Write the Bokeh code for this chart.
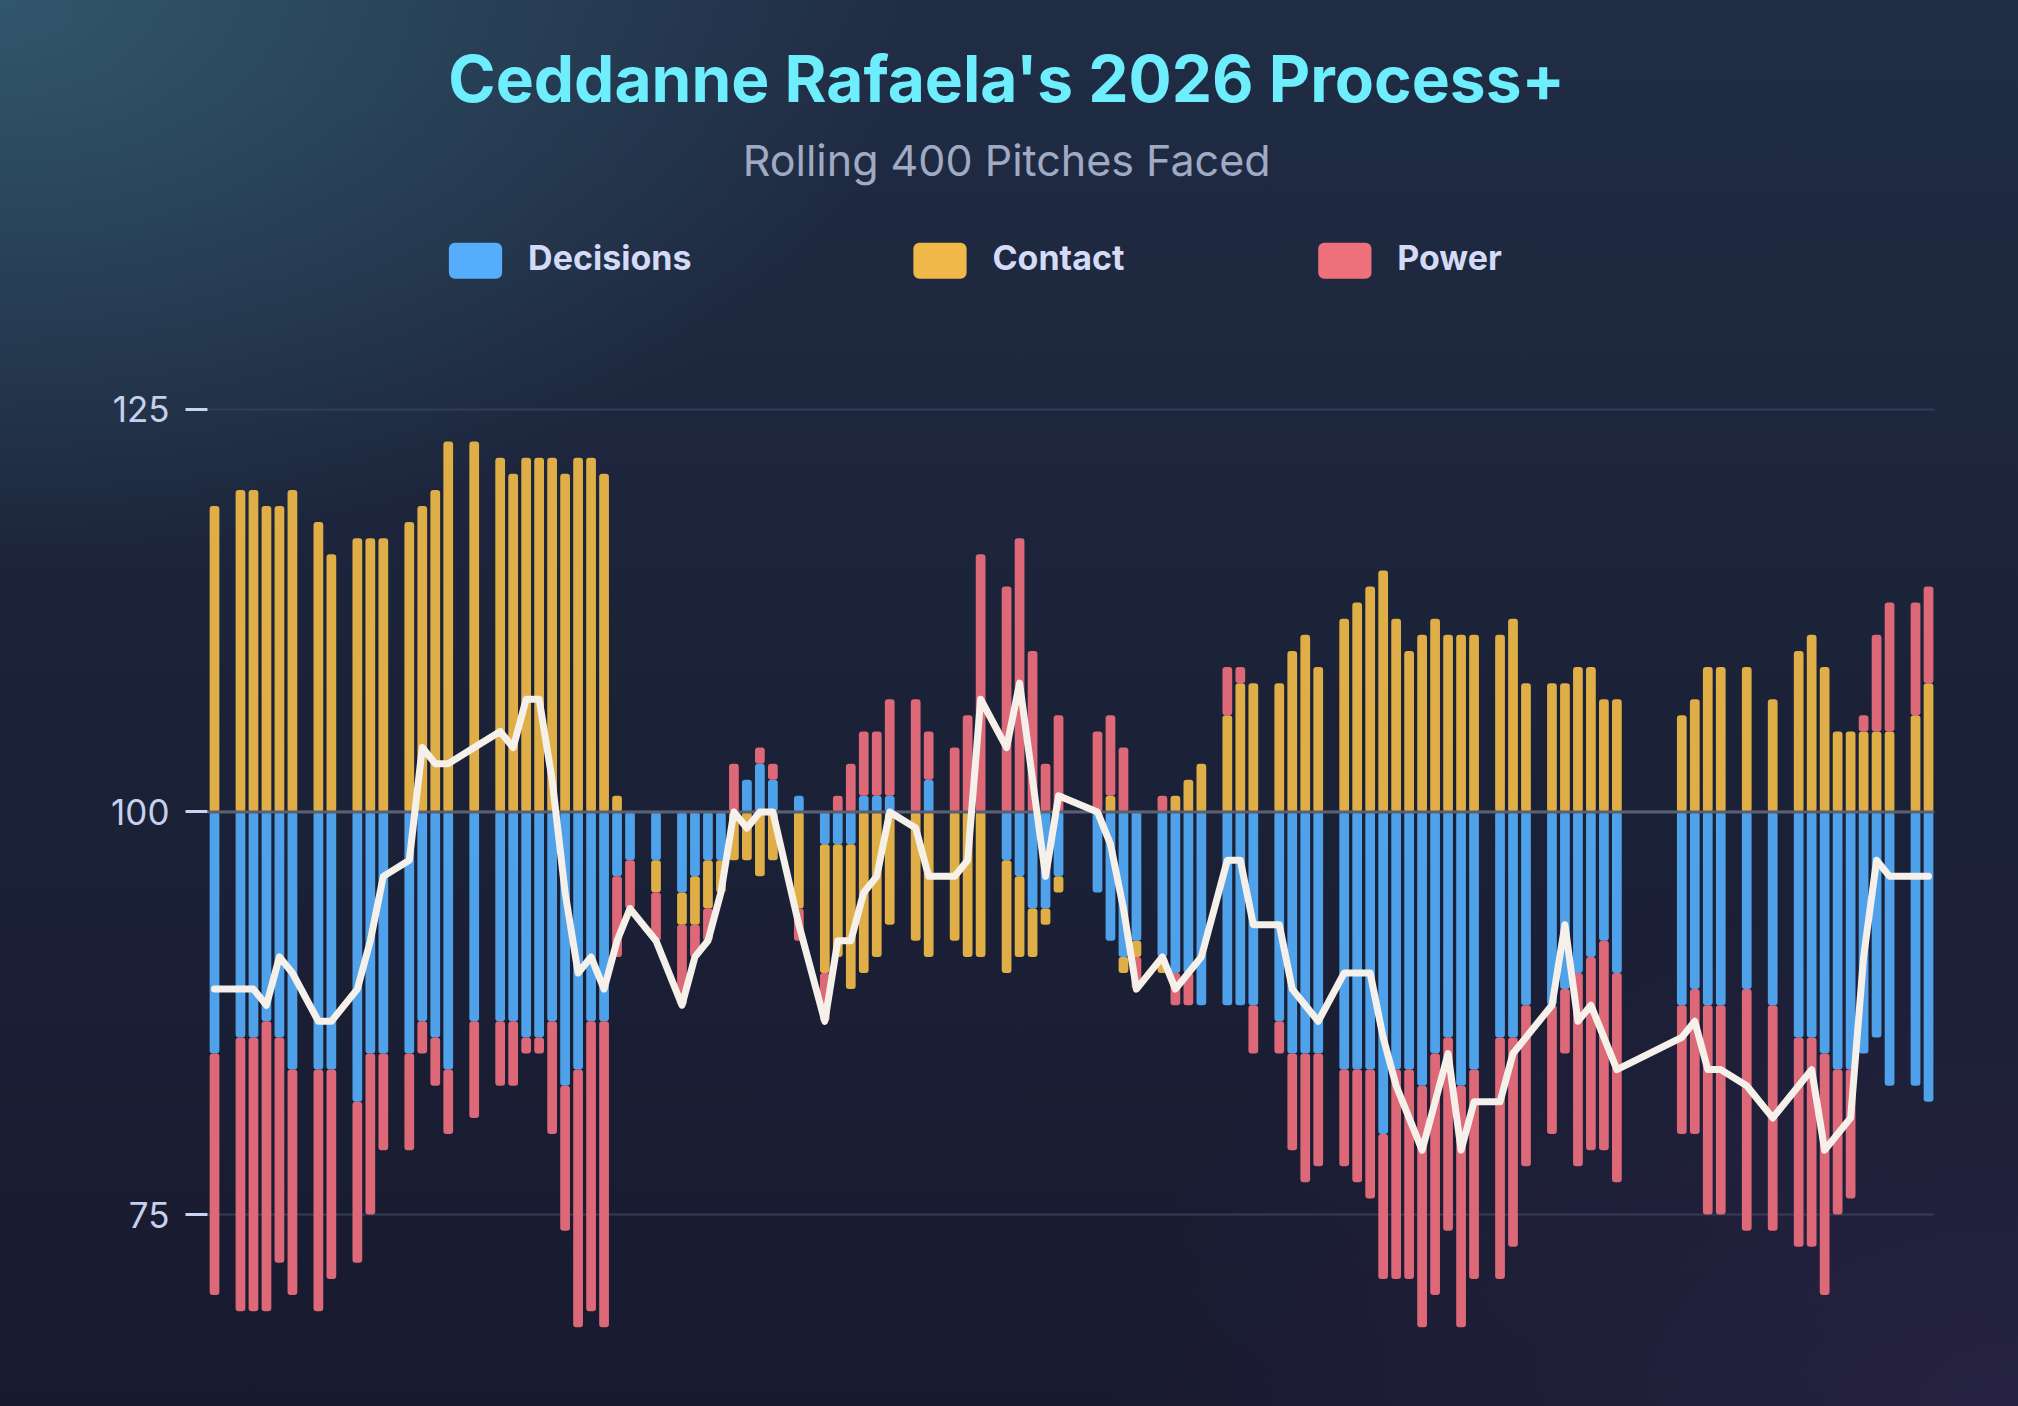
import re
from bokeh.plotting import figure
from bokeh.models import ColumnDataSource, FixedTicker, Range1d
from bokeh.core.properties import value
from bokeh.embed import file_html
from bokeh.resources import INLINE

# ---------------- data ----------------
game = [0, 2, 3, 4, 5, 6, 8, 9, 11, 12, 13, 15, 16, 17, 18, 20,
        22, 23, 24, 25, 26, 27, 28, 29, 30, 31, 32, 34, 36, 37, 38, 39, 40, 41, 42, 43,
        45, 47, 48, 49, 50, 51, 52, 54, 55, 57, 58, 59, 61, 62, 63, 64, 65,
        68, 69, 70, 71, 73, 74, 75, 76, 78, 79, 80, 82, 83, 84, 85, 87, 88,
        89, 90, 91, 92, 93, 94, 95, 96, 97, 99, 100, 101, 103, 104, 105, 106, 107, 108,
        113, 114, 115, 116, 118, 120, 122, 123, 124, 125, 126, 127, 128, 129, 131, 132]

decisions = [-15, -14, -14, -13, -14, -16, -16, -16, -18, -15, -15, -15, -13, -14, -16, -13,
             -13, -13, -14, -14, -13, -17, -16, -13, -13, -4, -3, -3, -5, -4, -3, -3, 0, 2, 3, 2,
             1, -2, -2, -2, 1, 1, 1, 0, 2, 0, 0, 0, -3, -4, -6, -6, -4,
             -5, -8, -9, -8, -9, -10, -10, -12, -12, -12, -12, -13, -15, -15, -15, -16, -16,
             -16, -20, -16, -16, -17, -15, -14, -17, -16, -14, -14, -12, -12, -11, -10, -9, -8, -10,
             -12, -11, -12, -12, -11, -12, -14, -14, -15, -16, -16, -15, -14, -17, -17, -18]

contact = [19, 20, 20, 19, 19, 20, 18, 16, 17, 17, 17, 18, 19, 20, 23, 23,
           22, 21, 22, 22, 22, 21, 22, 22, 21, 1, 0, -2, -2, -3, -3, -2, -3, -3, -4, -3,
           -6, -8, -7, -9, -10, -9, -7, -8, -9, -8, -9, -9, -7, -5, -3, -1, -1,
           0, 1, -1, -1, -1, 1, 2, 3, 6, 8, 8, 8, 10, 11, 9, 12, 13,
           14, 15, 12, 10, 11, 12, 11, 11, 11, 11, 12, 8, 8, 8, 9, 9, 7, 7,
           6, 7, 9, 9, 9, 7, 10, 11, 9, 5, 5, 5, 5, 5, 6, 8]

power = [-15, -17, -17, -18, -14, -14, -15, -13, -10, -10, -6, -6, -2, -3, -4, -6,
         -4, -4, -1, -1, -7, -9, -16, -18, -19, -5, -3, -3, -5, -2, -2, 0, 3, 0, 1, 1,
         -2, -3, 1, 3, 4, 4, 6, 7, 3, 4, 6, 16, 14, 17, 10, 3, 6,
         5, 5, 4, -2, 1, -2, -2, 0, 3, 1, -3, -2, -6, -8, -7, -6, -7,
         -8, -9, -13, -13, -15, -15, -12, -15, -13, -15, -13, -10, -8, -4, -12, -12, -13, -13,
         -8, -9, -13, -13, -15, -14, -13, -13, -15, -9, -8, 1, 6, 8, 7, 6]

process_plus = [89, 89, 89, 88, 91, 90, 87, 87, 89, 92, 96, 97, 104, 103, 103, 104,
                105, 104, 107, 107, 102, 95, 90, 91, 89, 92, 94, 92, 88, 91, 92, 95, 100, 99, 100, 100,
                93, 87, 92, 92, 95, 96, 100, 99, 96, 96, 97, 107, 104, 108, 102, 96, 101,
                100, 98, 94, 89, 91, 89, 90, 91, 97, 97, 93, 93, 89, 88, 87, 90, 90,
                90, 86, 83, 81, 79, 82, 85, 79, 82, 82, 85, 86, 88, 93, 87, 88, 86, 84,
                86, 87, 84, 84, 83, 81, 83, 84, 79, 80, 81, 91, 97, 96, 96, 96]

series_names = ["Decisions", "Contact", "Power"]
y_ticks = [75, 100, 125]
baseline = 100

title_text = "Ceddanne Rafaela's 2026 Process+"
subtitle_text = "Rolling 400 Pitches Faced"

# ---------------- style ----------------
bar_colors = ["#4fa2ea", "#dfae46", "#dd6877"]
legend_colors = ["#55adfb", "#f0b848", "#ee707b"]
FONT = "Inter"

X0, X1 = -0.54, 132.46
Y0, Y1 = 63.08, 150.39

p = figure(width=2018, height=1406,
           x_range=Range1d(X0, X1), y_range=Range1d(Y0, Y1),
           x_axis_location=None, y_axis_location="left",
           toolbar_location=None, tools="", output_backend="svg",
           min_border_left=207, min_border_right=84,
           min_border_top=0, min_border_bottom=0)
p.background_fill_alpha = 0
p.border_fill_alpha = 0
p.outline_line_color = None

# y axis
yax = p.yaxis[0]
yax.ticker = FixedTicker(ticks=y_ticks)
yax.axis_line_color = None
yax.major_tick_line_color = "#c9d3f3"
yax.major_tick_line_width = 3
yax.major_tick_out = 22
yax.major_tick_in = 0
yax.minor_tick_line_color = None
yax.major_label_standoff = 16
yax.major_label_text_font = FONT
yax.major_label_text_font_size = "35px"
yax.major_label_text_color = "#c6d0ee"

p.ygrid.ticker = FixedTicker(ticks=y_ticks)
p.ygrid.grid_line_color = "#343c56"
p.ygrid.grid_line_width = 2
p.xgrid.visible = False

# diverging stacks: positives stack upward from 100, negatives downward
pos_acc = [float(baseline)] * len(game)
neg_acc = [float(baseline)] * len(game)
for name, vals, col in zip(series_names, [decisions, contact, power], bar_colors):
    xs, tops, bots = [], [], []
    for i, v in enumerate(vals):
        if v > 0:
            xs.append(game[i]); bots.append(pos_acc[i]); tops.append(pos_acc[i] + v)
            pos_acc[i] += v
        elif v < 0:
            xs.append(game[i]); tops.append(neg_acc[i]); bots.append(neg_acc[i] + v)
            neg_acc[i] += v
    src = ColumnDataSource(dict(x=xs, top=tops, bottom=bots))
    p.vbar(x="x", top="top", bottom="bottom", width=0.75, source=src,
           fill_color=col, line_color=None, border_radius=3)

# baseline at 100 (drawn over the bars, under the line)
p.segment(x0=[X0], x1=[X1], y0=[baseline], y1=[baseline],
          line_color="#5a6173", line_width=3)

# Process+ line
p.line(game, process_plus, line_color="#f5f0e9", line_width=7,
       line_join="round", line_cap="round")

# title & subtitle
p.text(x=[61.0], y=[145.53], text=[title_text], text_font=value(FONT),
       text_font_size="64px", text_font_style="bold", text_color="#6eeefc",
       text_align="center", text_baseline="alphabetic")
p.text(x=[61.0], y=[140.5], text=[subtitle_text], text_font=value(FONT),
       text_font_size="43px", text_color="#a0aac4",
       text_align="center", text_baseline="alphabetic")

# legend (manual, rounded swatches)
sw_left = [18.05, 53.82, 85.0]
sw_w = 4.1
lab_x = [24.15, 59.91, 91.08]
p.quad(left=sw_left, right=[l + sw_w for l in sw_left],
       top=[135.35] * 3, bottom=[133.11] * 3,
       fill_color=legend_colors, line_color=None, border_radius=6)
p.text(x=lab_x, y=[134.41] * 3, text=series_names, text_font=value(FONT),
       text_font_size="34px", text_font_style="bold", text_color="#d5dbf7",
       text_align="left", text_baseline="alphabetic")

html = file_html(p, INLINE)
bg = ("background: radial-gradient(ellipse 45% 40% at 0% 0%, rgba(52,94,114,0.85) 0%, rgba(52,94,114,0) 100%),"
      " radial-gradient(ellipse 45% 40% at 100% 100%, rgba(50,40,80,0.55) 0%, rgba(50,40,80,0) 100%),"
      " linear-gradient(180deg, #202d45 0%, #1b2238 50%, #181a2f 100%); min-height:100%;")
html = re.sub(r"<html([^>]*)>", lambda m: "<html" + m.group(1) + ' style="' + bg + '">', html, count=1)
open("out.html", "w").write(html)
